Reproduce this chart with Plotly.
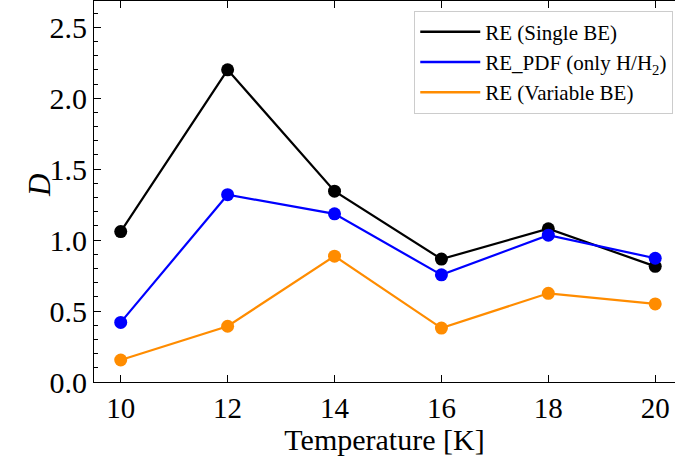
import plotly.graph_objects as go

temperature = [10, 12, 14, 16, 18, 20]
re_single_be = [1.06, 2.20, 1.345, 0.866, 1.08, 0.815]
re_pdf_only_h = [0.42, 1.32, 1.185, 0.755, 1.035, 0.872]
re_variable_be = [0.155, 0.393, 0.887, 0.38, 0.625, 0.55]

series_names = ["RE (Single BE)", "RE_PDF (only H/H<sub>2</sub>)", "RE (Variable BE)"]
series_values = [re_single_be, re_pdf_only_h, re_variable_be]
series_colors = ["#000000", "#0000ff", "#ff8c00"]

FONT = "Liberation Serif, Times New Roman, serif"

fig = go.Figure()
for i, (name, vals, col) in enumerate(zip(series_names, series_values, series_colors)):
    fig.add_trace(go.Scatter(
        x=temperature, y=vals, mode="lines+markers", showlegend=False,
        line=dict(color=col, width=2.2), marker=dict(color=col, size=13),
    ))
for i, (name, col) in enumerate(zip(series_names, series_colors)):
    fig.add_trace(go.Scatter(
        x=[None], y=[None], mode="lines", name=name, legendgroup=f"g{i}",
        line=dict(color=col, width=2.5),
    ))

fig.update_layout(
    width=675, height=456,
    margin=dict(l=94, r=0, t=1, b=74),
    plot_bgcolor="white", paper_bgcolor="white",
    font=dict(family=FONT, color="black"),
    showlegend=True,
    legend=dict(
        x=0.997, y=0.975, xanchor="right", yanchor="top",
        bgcolor="white", bordercolor="#cccccc", borderwidth=1,
        font=dict(family=FONT, size=21, color="black"),
        itemwidth=60, tracegroupgap=0,
    ),
    annotations=[dict(
        text="<i>D</i>", xref="paper", yref="paper",
        x=(40 - 94) / 581, y=(382 - 186) / 381, xanchor="center", yanchor="middle",
        textangle=-90, showarrow=False, font=dict(family=FONT, size=31, color="black"),
    )],
)
fig.update_xaxes(
    range=[9.5, 20.37], tickvals=temperature, ticktext=[str(t) for t in temperature],
    ticks="inside", ticklen=7, tickwidth=1, tickcolor="black",
    showline=True, linecolor="black", linewidth=1, mirror="ticks",
    showgrid=False, zeroline=False,
    tickfont=dict(family=FONT, size=29),
    title=dict(text="Temperature [K]", font=dict(family=FONT, size=30), standoff=5),
)
fig.update_yaxes(
    range=[0, 2.685], tickvals=[0, 0.5, 1.0, 1.5, 2.0, 2.5],
    ticktext=["0.0", "0.5", "1.0", "1.5", "2.0", "2.5"],
    ticks="inside", ticklen=7, tickwidth=1, tickcolor="black",
    minor=dict(dtick=0.1, ticks="inside", ticklen=4, tickcolor="black", showgrid=False),
    showline=True, linecolor="black", linewidth=1, mirror=False,
    showgrid=False, zeroline=False,
    tickfont=dict(family=FONT, size=30),
)

fig.write_html("out.html")
